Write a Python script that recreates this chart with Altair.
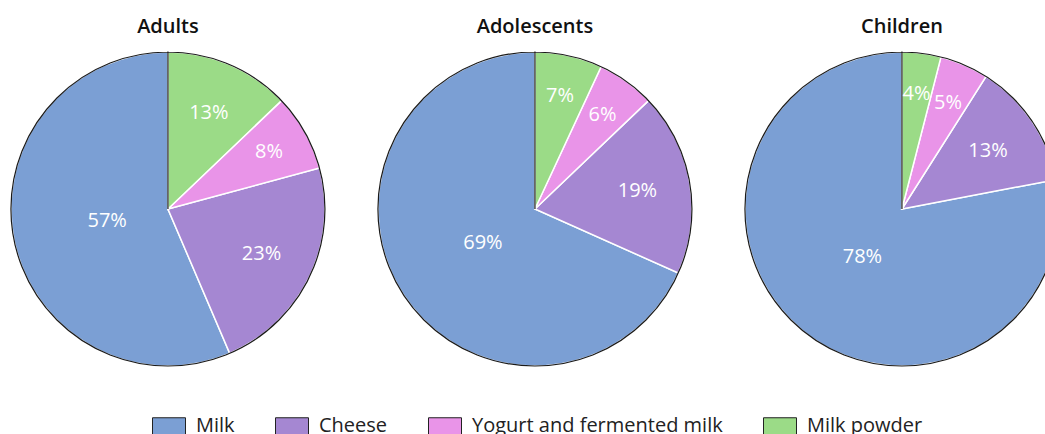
import altair as alt
import pandas as pd

groups = ["Adults", "Adolescents", "Children"]
categories = ["Milk", "Cheese", "Yogurt and fermented milk", "Milk powder"]
adults = [57, 23, 8, 13]
adolescents = [69, 19, 6, 7]
children = [78, 13, 5, 4]
# clockwise order of slices starting at 12 o'clock
slice_order = ["Milk powder", "Yogurt and fermented milk", "Cheese", "Milk"]
colors = ["#7B9FD4", "#A587D2", "#E994E8", "#9BDB87"]

rows = []
for g, vals in zip(groups, [adults, adolescents, children]):
    for c, v in zip(categories, vals):
        rows.append({"group": g, "category": c, "value": v,
                     "idx": slice_order.index(c)})
df = pd.DataFrame(rows)
gdf = pd.DataFrame({"group": groups})

FONT = "Open Sans"
R = 157
TAU = 6.283185307

xenc = alt.X("group:N", axis=None,
             scale=alt.Scale(type="point", domain=groups, padding=0.4237, align=0.54))
tscale = alt.Scale(domain=[0, 1], range=[0, TAU], zero=False, nice=False)

base = alt.Chart(df).transform_stack(
    stack="value", groupby=["group"], as_=["s0", "s1"],
    offset="normalize", sort=[alt.SortField("idx", order="ascending")],
).transform_calculate(
    mid="(datum.s0 + datum.s1) / 2",
    label="datum.value + '%'",
    lr="datum.value > 50 ? 62 : (datum.value < 10 ? 116 : 104)",
)

slices = base.mark_arc(outerRadius=R, stroke="white", strokeWidth=1.5).encode(
    x=xenc,
    theta=alt.Theta("s0:Q", scale=tscale),
    theta2="s1:Q",
    color=alt.Color(
        "category:N",
        scale=alt.Scale(domain=categories, range=colors),
        legend=alt.Legend(
            title=None, orient="none", direction="horizontal",
            legendX=152, legendY=409,
            symbolType="M-1,-0.515H1V0.515H-1Z", symbolSize=1089,
            symbolStrokeColor="#222", symbolStrokeWidth=1, symbolOpacity=1,
            labelFont=FONT, labelFontSize=20, labelColor="#222",
            labelOffset=10, columnPadding=38, labelLimit=400,
        ),
    ),
)

labels = base.mark_text(font=FONT, fontSize=20, color="white").encode(
    x=xenc,
    theta=alt.Theta("mid:Q", scale=tscale),
    radius=alt.Radius("lr:Q", scale=None),
    text="label:N",
)

outline = alt.Chart(gdf).mark_arc(
    outerRadius=R, theta=0, theta2=TAU, filled=False,
    stroke="#1a1a1a", strokeWidth=1.2
).encode(x=xenc)

titles = alt.Chart(gdf).mark_text(
    y=27, font=FONT, fontSize=20, fontWeight=600, color="#111"
).encode(x=xenc, text="group:N")

chart = alt.layer(slices, outline, labels, titles).properties(
    width=1045, height=418,
    autosize=alt.AutoSizeParams(type="none"),
    padding={"left": 0, "top": 0, "right": 0, "bottom": 16},
).configure_view(stroke=None)

chart.save("out.html", embed_options={"renderer": "svg", "actions": False})
